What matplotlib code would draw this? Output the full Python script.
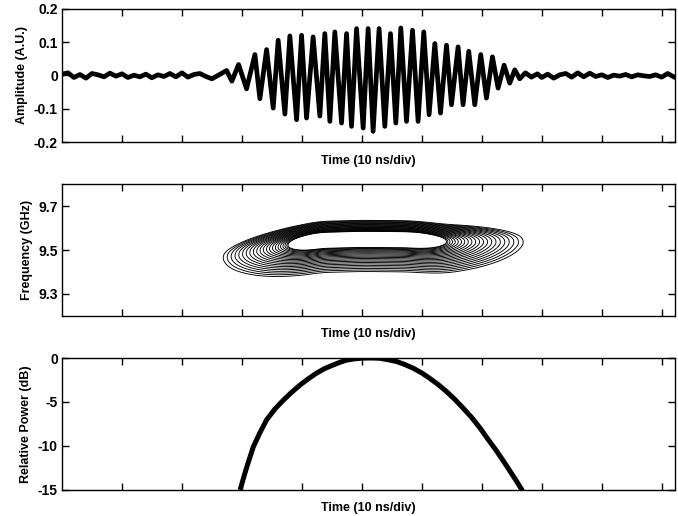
import numpy as np
import matplotlib.pyplot as plt

plt.rcParams['font.family'] = ['Liberation Sans', 'DejaVu Sans']
plt.rcParams['font.weight'] = 'bold'
plt.rcParams['axes.labelweight'] = 'bold'
plt.rcParams['font.size'] = 9
plt.rcParams['axes.unicode_minus'] = False

# --- top panel: detected pulse (time in divisions, amplitude in A.U.) ---
noise_left_t = np.linspace(0.0, 2.6, 27)
noise_left = [0.004, 0.008, -0.006, 0.003, -0.008, 0.006, 0.002, -0.004, 0.007,
              -0.002, 0.005, -0.006, 0.001, -0.004, 0.004, -0.007, 0.002, -0.003,
              0.006, -0.004, 0.008, -0.005, 0.003, 0.006, -0.003, -0.010, 0.000]
pulse_t = [2.745, 2.833, 2.945, 3.078, 3.217, 3.300, 3.412, 3.522, 3.605, 3.717,
           3.800, 3.912, 3.995, 4.078, 4.188, 4.300, 4.383, 4.467, 4.550, 4.662,
           4.745, 4.828, 4.912, 5.022, 5.105, 5.188, 5.288, 5.383, 5.478, 5.567,
           5.650, 5.745, 5.845, 5.938, 6.033, 6.122, 6.217, 6.312, 6.412, 6.495,
           6.605, 6.688, 6.783, 6.883, 6.983, 7.078, 7.178, 7.272, 7.372, 7.467,
           7.550, 7.633, 7.728, 7.828, 7.928]
pulse_amp = [0.015, -0.017, 0.033, -0.040, 0.063, -0.070, 0.078, -0.098, 0.106, -0.116,
             0.119, -0.133, 0.121, -0.128, 0.116, -0.122, 0.126, -0.138, 0.131, -0.143,
             0.126, -0.153, 0.141, -0.158, 0.141, -0.168, 0.141, -0.153, 0.126, -0.143,
             0.143, -0.138, 0.136, -0.138, 0.131, -0.118, 0.096, -0.113, 0.091, -0.088,
             0.086, -0.088, 0.073, -0.088, 0.063, -0.068, 0.056, -0.038, 0.031, -0.023,
             0.017, -0.010, 0.008, -0.005, 0.005]
noise_right_t = np.linspace(8.0, 10.2, 23)
noise_right = [-0.006, 0.004, -0.008, 0.002, 0.006, -0.005, 0.008, -0.004, 0.007, -0.003,
               0.002, -0.006, 0.001, -0.002, 0.003, -0.004, 0.002, -0.001, -0.003, 0.002,
               -0.005, 0.006, -0.004]

# --- middle panel: time-frequency contour parameters ---
ridge_t = [0.0, 2.69, 3.2, 3.77, 4.3, 5.0, 5.8, 6.4, 7.7, 10.2]
ridge_f = [9.45, 9.46, 9.49, 9.52, 9.545, 9.55, 9.548, 9.535, 9.534, 9.534]
plateau_t = (4.268, 5.82)          # time span where the rings are full height
ramp_t = (0.498, 0.59)             # rise / fall scale (div per level unit)
width_f = (0.035, 0.038)           # upper / lower widths (GHz)
shape_f = (1.3, 0.85)              # upper / lower exponents
n_rings = 22
ring_inner, ring_outer, ring_spread = 1.0, 3.17, 1.3

# --- bottom panel: relative power (dB) ---
power_t = [2.97, 3.05, 3.1, 3.19, 3.3, 3.41, 3.55, 3.69, 3.83, 3.97, 4.1, 4.24, 4.38,
           4.52, 4.63, 4.74, 4.87, 5.0, 5.15, 5.3, 5.44, 5.58, 5.72, 5.86, 6.0, 6.13,
           6.27, 6.41, 6.55, 6.69, 6.83, 6.97, 7.1, 7.24, 7.36, 7.47, 7.58, 7.68]
power_db = [-15.0, -13.1, -12.0, -10.1, -8.5, -7.05, -5.8, -4.8, -3.9, -3.07, -2.4, -1.74,
            -1.2, -0.8, -0.5, -0.25, -0.1, -0.02, 0.0, -0.03, -0.2, -0.4, -0.75, -1.17,
            -1.7, -2.3, -3.0, -3.8, -4.7, -5.7, -6.75, -7.95, -9.2, -10.5, -11.7, -12.85,
            -14.0, -15.1]

xticks = list(range(1, 11))
xmax = 10.22

fig = plt.figure(figsize=(6.78, 5.16), dpi=100)
ax1 = fig.add_axes([0.0914, 0.7248, 0.904, 0.2578])
ax2 = fig.add_axes([0.0914, 0.3876, 0.904, 0.2558])
ax3 = fig.add_axes([0.0914, 0.0504, 0.904, 0.2558])

# top
t_all = np.concatenate([noise_left_t, pulse_t, noise_right_t])
a_all = np.concatenate([noise_left, pulse_amp, noise_right])
ax1.plot(t_all, a_all, color='black', lw=3.4, solid_joinstyle='round')
ax1.set_ylim(-0.2, 0.2)
ax1.set_yticks([-0.2, -0.1, 0, 0.1, 0.2])
ax1.set_yticklabels(['-0.2', '-0.1', '0', '0.1', '0.2'])
ax1.set_ylabel('Amplitude (A.U.)')

# middle: contours of a "distance" field around the ridge
tg = np.linspace(0, xmax, 900)
fg = np.linspace(9.2, 9.8, 700)
fc_1d = np.interp(tg, ridge_t, ridge_f)
kernel = np.ones(31) / 31
fc_1d = np.convolve(np.pad(fc_1d, 15, mode='edge'), kernel, mode='valid')
T, F = np.meshgrid(tg, fg)
FC = np.broadcast_to(fc_1d, T.shape)
phi_t = np.zeros_like(T)
phi_t = np.where(T < plateau_t[0], (plateau_t[0] - T) / ramp_t[0], phi_t)
phi_t = np.where(T > plateau_t[1], (T - plateau_t[1]) / ramp_t[1], phi_t)
df = F - FC
phi_f = np.where(df > 0,
                 (np.abs(df) / width_f[0]) ** shape_f[0],
                 (np.abs(df) / width_f[1]) ** shape_f[1])
phi = np.sqrt(phi_t ** 2 + phi_f ** 2)
levels = ring_inner + (ring_outer - ring_inner) * np.linspace(0, 1, n_rings) ** ring_spread
ax2.contour(T, F, phi, levels=levels, colors='black', linewidths=0.65)
ax2.set_ylim(9.2, 9.8)
ax2.set_yticks([9.3, 9.5, 9.7])
ax2.set_yticklabels(['9.3', '9.5', '9.7'])
ax2.set_ylabel('Frequency (GHz)')

# bottom
ax3.plot(power_t, power_db, color='black', lw=3.6, solid_capstyle='butt')
ax3.set_ylim(-15, 0)
ax3.set_yticks([-15, -10, -5, 0])
ax3.set_yticklabels(['-15', '-10', '-5', '0'])
ax3.set_ylabel('Relative Power (dB)')

for ax in (ax1, ax2, ax3):
    ax.set_xlim(0, xmax)
    ax.set_xticks(xticks)
    ax.set_xticklabels([])
    ax.tick_params(direction='in', length=5, width=1, top=True, right=True, labelsize=10, pad=3)
    ax.set_xlabel('Time (10 ns/div)', labelpad=6)
    for s in ax.spines.values():
        s.set_linewidth(1.0)

fig.savefig('out.png', dpi=100)
